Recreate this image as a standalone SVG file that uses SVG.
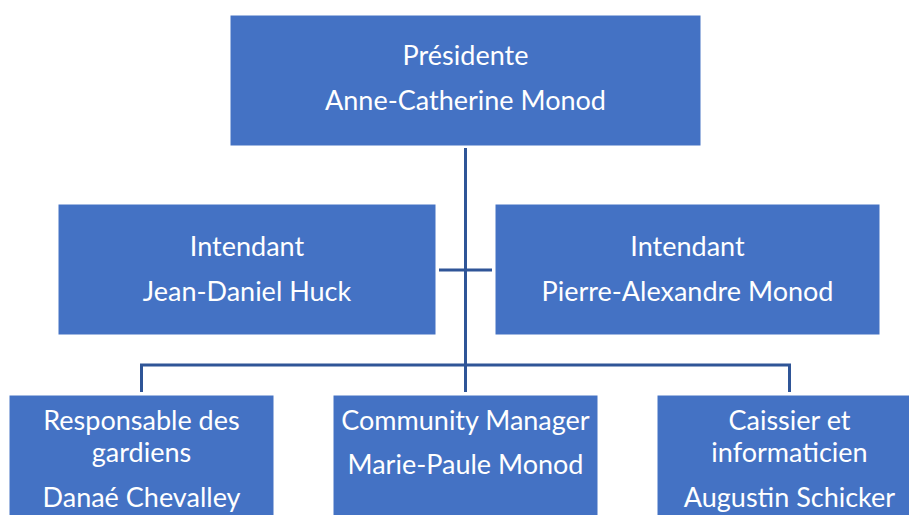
<svg xmlns="http://www.w3.org/2000/svg" width="909" height="515" viewBox="0 0 909 515">
<style>
.box{fill:#4472C4;stroke:#ffffff;stroke-width:1}
.t{font-family:"Lato","Liberation Sans",sans-serif;font-size:27px;fill:#ffffff;text-anchor:middle}
.c{stroke:#2F5597;stroke-width:3;fill:none}
</style>
<rect width="909" height="515" fill="#ffffff"/>
<g id="connectors">
<line class="c" x1="465.5" y1="148" x2="465.5" y2="392"/>
<line class="c" x1="439" y1="270" x2="492" y2="270"/>
<polyline class="c" points="141.5,392 141.5,365 789.5,365 789.5,392"/>
</g>
<g id="presidente">
<rect class="box" x="230" y="15" width="471" height="131"/>
<text class="t" x="465.5" y="65">Présidente</text>
<text class="t" x="465.5" y="110">Anne-Catherine Monod</text>
</g>
<g id="intendant1">
<rect class="box" x="58" y="204" width="378" height="131"/>
<text class="t" x="247" y="256">Intendant</text>
<text class="t" x="247" y="301">Jean-Daniel Huck</text>
</g>
<g id="intendant2">
<rect class="box" x="495" y="204" width="385" height="131"/>
<text class="t" x="687.5" y="256">Intendant</text>
<text class="t" x="687.5" y="301">Pierre-Alexandre Monod</text>
</g>
<g id="gardiens">
<rect class="box" x="9" y="395" width="265" height="131"/>
<text class="t" x="141.5" y="430">Responsable des</text>
<text class="t" x="141.5" y="462">gardiens</text>
<text class="t" x="141.5" y="507">Danaé Chevalley</text>
</g>
<g id="community">
<rect class="box" x="333" y="395" width="265" height="131"/>
<text class="t" x="465.5" y="430">Community Manager</text>
<text class="t" x="465.5" y="474">Marie-Paule Monod</text>
</g>
<g id="caissier">
<rect class="box" x="657" y="395" width="265" height="131"/>
<text class="t" x="789.5" y="430">Caissier et</text>
<text class="t" x="789.5" y="462">informaticien</text>
<text class="t" x="789.5" y="507">Augustin Schicker</text>
</g>
</svg>
